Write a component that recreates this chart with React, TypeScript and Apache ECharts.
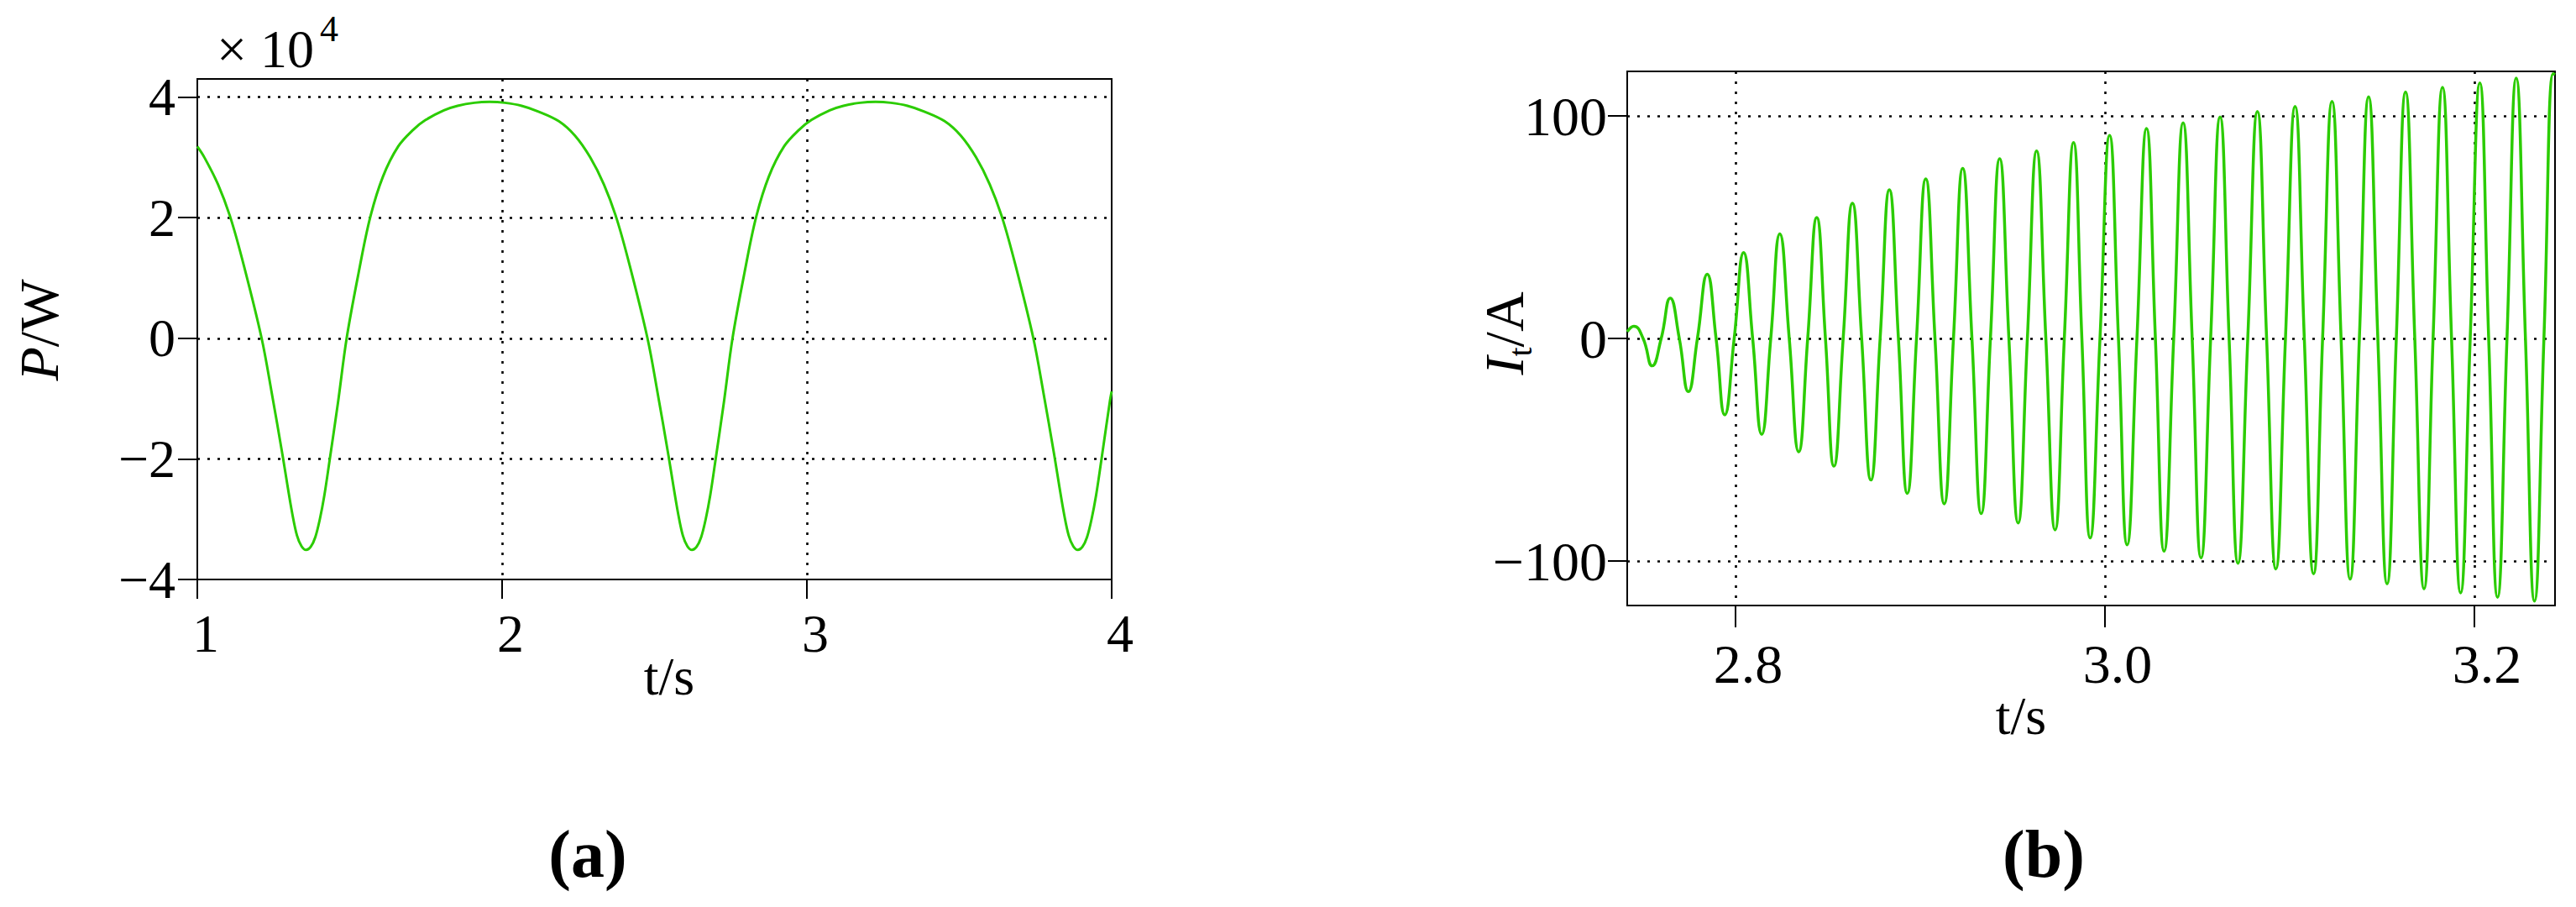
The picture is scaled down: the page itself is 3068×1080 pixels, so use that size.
import React, { useEffect, useRef } from 'react';
import * as echarts from 'echarts';

// ---------- data ----------
// (a) active power P, in units of 10^4 W, against time t (s)
const POWER_CURVE: number[][] = [
  [1.000, 3.18], [1.023, 3.00], [1.068, 2.55], [1.110, 1.98], [1.153, 1.20], [1.211, 0.00],
  [1.244, -0.90], [1.280, -1.95], [1.297, -2.48], [1.312, -2.92], [1.327, -3.27], [1.342, -3.45],
  [1.357, -3.51],
  [1.372, -3.46], [1.387, -3.30], [1.402, -3.00], [1.417, -2.60], [1.433, -2.06], [1.462, -1.05],
  [1.490, 0.00], [1.529, 1.08], [1.567, 2.00], [1.609, 2.68], [1.659, 3.18], [1.709, 3.46],
  [1.749, 3.62], [1.809, 3.78], [1.854, 3.855], [1.909, 3.905], [1.959, 3.92],
  [2.009, 3.905], [2.064, 3.855], [2.119, 3.76], [2.186, 3.60], [2.239, 3.36], [2.289, 3.00],
  [2.334, 2.55], [2.376, 1.98], [2.419, 1.20], [2.477, 0.00], [2.510, -0.90], [2.546, -1.95],
  [2.563, -2.48], [2.578, -2.92], [2.593, -3.27], [2.608, -3.45], [2.623, -3.51],
  [2.638, -3.46], [2.653, -3.30], [2.668, -3.00], [2.683, -2.60], [2.699, -2.06], [2.728, -1.05],
  [2.756, 0.00], [2.795, 1.08], [2.833, 2.00], [2.875, 2.68], [2.925, 3.18], [2.975, 3.46],
  [3.015, 3.62], [3.075, 3.78], [3.120, 3.855], [3.175, 3.905], [3.225, 3.92],
  [3.275, 3.905], [3.330, 3.855], [3.385, 3.76], [3.452, 3.60], [3.505, 3.36], [3.555, 3.00],
  [3.600, 2.55], [3.642, 1.98], [3.685, 1.20], [3.743, 0.00], [3.776, -0.90], [3.812, -1.95],
  [3.829, -2.48], [3.844, -2.92], [3.859, -3.27], [3.874, -3.45], [3.889, -3.51],
  [3.904, -3.46], [3.919, -3.30], [3.934, -3.00], [3.949, -2.60], [3.965, -2.06], [3.994, -1.05],
  [4.000, -0.88],
];

// (b) current I_t (A) against time t (s): extrema and zero crossings
const CURRENT_CURVE: number[][] = [
  [2.7414, 3.0], [2.7450, 5.5], [2.7500, 0], [2.7549, -12.3], [2.7598, 0], [2.7647, 18.1],
  [2.7696, 0], [2.7745, -23.9], [2.7794, 0], [2.7847, 28.9], [2.7895, 0], [2.7942, -34.3],
  [2.7993, 0], [2.8044, 38.6], [2.8093, 0], [2.8142, -43.1], [2.8191, 0], [2.8240, 47.0],
  [2.8291, 0], [2.8342, -50.9], [2.8391, 0], [2.8440, 54.3], [2.8487, 0], [2.8533, -57.4],
  [2.8583, 0], [2.8633, 60.8], [2.8683, 0], [2.8733, -63.6], [2.8783, 0], [2.8833, 66.8],
  [2.8882, 0], [2.8930, -69.6], [2.8980, 0], [2.9030, 71.7], [2.9080, 0], [2.9130, -74.3],
  [2.9180, 0], [2.9230, 76.4], [2.9280, 0], [2.9330, -78.7], [2.9380, 0], [2.9430, 80.8],
  [2.9480, 0], [2.9530, -82.9], [2.9580, 0], [2.9630, 84.2], [2.9680, 0], [2.9730, -86.0],
  [2.9780, 0], [2.9830, 88.0], [2.9875, 0], [2.9920, -89.6], [2.9973, 0], [3.0025, 91.2],
  [3.0073, 0], [3.0120, -92.7], [3.0173, 0], [3.0225, 94.3], [3.0273, 0], [3.0320, -95.6],
  [3.0372, 0], [3.0423, 96.9], [3.0472, 0], [3.0520, -98.6], [3.0572, 0], [3.0623, 99.5],
  [3.0672, 0], [3.0720, -101.0], [3.0773, 0], [3.0825, 102.0], [3.0875, 0], [3.0925, -103.6],
  [3.0977, 0], [3.1029, 104.2], [3.1079, 0], [3.1129, -105.8], [3.1178, 0], [3.1229, 106.5],
  [3.1278, 0], [3.1327, -108.1], [3.1377, 0], [3.1427, 108.6], [3.1477, 0], [3.1527, -110.3],
  [3.1577, 0], [3.1627, 110.8], [3.1677, 0], [3.1727, -112.5], [3.1776, 0], [3.1827, 112.8],
  [3.1876, 0], [3.1925, -114.3], [3.1977, 0], [3.2029, 114.8], [3.2077, 0], [3.2125, -116.3],
  [3.2176, 0], [3.2226, 117.0], [3.2276, 0], [3.2325, -118.0], [3.2376, 0], [3.2426, 119.0],
  [3.2436, 118.6],
];

// tick values
const P_X_TICKS = [1, 2, 3, 4];
const P_Y_TICKS = [-4, -2, 0, 2, 4];
const I_X_TICKS = [2.8, 3.0, 3.2];
const I_Y_TICKS = [-100, 0, 100];

// ---------- styling ----------
const SERIF = '"Liberation Serif", "Times New Roman", serif';
const GREEN = '#2bcc00';
const BLACK = '#000000';

const minusFmt = (v: number) => (v < 0 ? '\u2212' + String(Math.abs(v)) : String(v));

const dotted = { color: BLACK, width: 2.6, type: [3, 9] as number[], cap: 'butt' as const };

function makeGrid(left: number, top: number, width: number, height: number) {
  return {
    left, top, width, height,
    show: true,
    borderColor: BLACK,
    borderWidth: 2,
    backgroundColor: 'rgba(0,0,0,0)',
    containLabel: false,
    outerBoundsMode: 'none',
  };
}

function makeText(x: number, y: number, text: string, size: number, extra: any = {}) {
  return {
    type: 'text',
    x, y,
    rotation: extra.rotation || 0,
    silent: true,
    style: {
      text,
      fontFamily: SERIF,
      fontSize: size,
      fontWeight: extra.fontWeight || 'normal',
      fill: BLACK,
      align: extra.align || 'center',
      verticalAlign: 'middle',
      textAlign: extra.align || 'center',
      textVerticalAlign: 'middle',
      rich: extra.rich,
    },
  };
}

export default function App() {
  const ref = useRef<HTMLDivElement>(null);

  useEffect(() => {
    if (!ref.current) return;
    const chart = echarts.init(ref.current, null, { renderer: 'svg', width: 3068, height: 1080 });

    const option: any = {
      animation: false,
      backgroundColor: '#ffffff',
      grid: [makeGrid(235, 94, 1089, 596), makeGrid(1938, 85, 1105, 636)],
      xAxis: [
        {
          gridIndex: 0, type: 'value', min: 1, max: 4, interval: 1,
          axisLine: { show: false, onZero: false },
          axisTick: { show: true, length: 23, lineStyle: { color: BLACK, width: 2 }, customValues: P_X_TICKS },
          axisLabel: {
            customValues: P_X_TICKS, margin: 32, fontFamily: SERIF, fontSize: 64, color: BLACK,
            padding: [0, 0, 0, 20],
          },
          splitLine: { show: true, showMinLine: false, showMaxLine: false, lineStyle: dotted },
        },
        {
          gridIndex: 1, type: 'value', min: 2.7414, max: 3.2436,
          axisLine: { show: false, onZero: false },
          axisTick: { show: true, length: 26, lineStyle: { color: BLACK, width: 2 }, customValues: I_X_TICKS },
          axisLabel: {
            customValues: I_X_TICKS, margin: 36, fontFamily: SERIF, fontSize: 66, color: BLACK,
            padding: [0, 0, 0, 30], formatter: (v: number) => v.toFixed(1),
          },
          splitLine: { show: true, lineStyle: dotted },
        },
      ],
      yAxis: [
        {
          gridIndex: 0, type: 'value', min: -4, max: 4.3, interval: 2,
          axisLine: { show: false, onZero: false },
          axisTick: { show: true, length: 23, lineStyle: { color: BLACK, width: 2 }, customValues: P_Y_TICKS },
          axisLabel: {
            customValues: P_Y_TICKS, margin: 26, fontFamily: SERIF, fontSize: 64, color: BLACK,
            formatter: minusFmt,
          },
          splitLine: { show: true, showMinLine: false, lineStyle: dotted },
        },
        {
          gridIndex: 1, type: 'value', min: -120, max: 120,
          axisLine: { show: false, onZero: false },
          axisTick: { show: true, length: 23, lineStyle: { color: BLACK, width: 2 }, customValues: I_Y_TICKS },
          axisLabel: {
            customValues: I_Y_TICKS, margin: 24, fontFamily: SERIF, fontSize: 66, color: BLACK,
            formatter: minusFmt,
          },
          splitLine: { show: true, lineStyle: dotted },
        },
      ],
      series: [
        {
          type: 'line', xAxisIndex: 0, yAxisIndex: 0,
          data: POWER_CURVE,
          showSymbol: false, symbol: 'none', smooth: 0.35, clip: true,
          lineStyle: { color: GREEN, width: 3 },
          z: 3,
        },
        {
          type: 'line', xAxisIndex: 1, yAxisIndex: 1,
          data: CURRENT_CURVE,
          showSymbol: false, symbol: 'none', smooth: 0.5, clip: true,
          lineStyle: { color: GREEN, width: 3.5 },
          z: 3,
        },
      ],
      graphic: [
        makeText(258, 58, '\u00d7 10', 64, { align: 'left' }),
        makeText(381, 34, '4', 44, { align: 'left' }),
        makeText(46, 393, '{i|P}/W', 66, {
          rotation: Math.PI / 2,
          rich: { i: { fontStyle: 'italic', fontFamily: SERIF, fontSize: 66, fill: BLACK } },
        }),
        makeText(797, 805, 't/s', 64),
        makeText(700, 1017, '(a)', 80, { fontWeight: 'bold' }),
        makeText(1791, 397, '{i|I}{s|t}{n|/A}', 66, {
          rotation: Math.PI / 2,
          rich: {
            i: { fontStyle: 'italic', fontFamily: SERIF, fontSize: 66, lineHeight: 66, fill: BLACK },
            s: { fontStyle: 'normal', fontFamily: SERIF, fontSize: 40, lineHeight: 40, verticalAlign: 'top', padding: [32, 0, 0, 0], fill: BLACK },
            n: { fontStyle: 'normal', fontFamily: SERIF, fontSize: 66, lineHeight: 66, fill: BLACK },
          },
        }),
        makeText(2407, 852, 't/s', 64),
        makeText(2434, 1017, '(b)', 80, { fontWeight: 'bold' }),
      ],
    };

    chart.setOption(option);
    return () => chart.dispose();
  }, []);

  return (
    <div
      ref={ref}
      style={{ position: 'absolute', left: 0, top: 0, width: 3068, height: 1080, background: '#fff' }}
    />
  );
}
